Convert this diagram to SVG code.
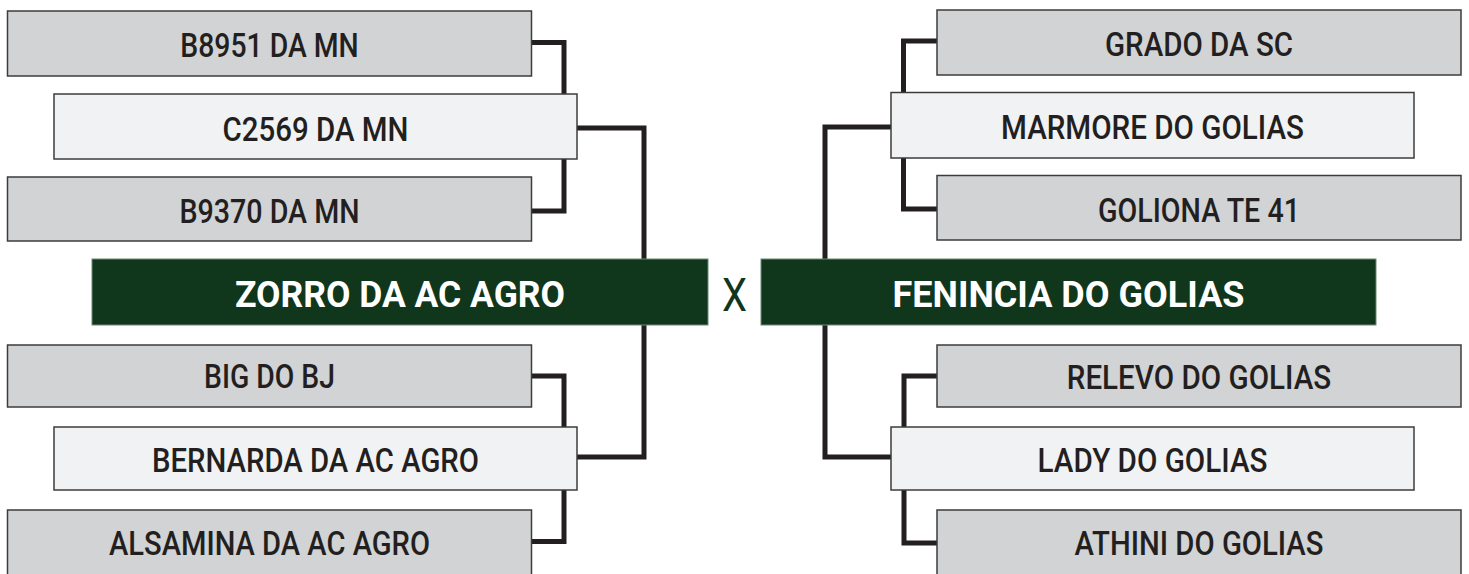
<svg xmlns="http://www.w3.org/2000/svg" width="1469" height="574" viewBox="0 0 1469 574">
<style>
.bg{fill:#ffffff}
.gray{fill:#d1d3d4;stroke:#3c3c3c;stroke-width:1.5}
.light{fill:#f1f2f3;stroke:#3c3c3c;stroke-width:1.5}
.green{fill:#10361c;stroke:#6d8a74;stroke-width:1}
.lbl{font-family:Roboto,"Liberation Sans",sans-serif;font-weight:500;font-size:33px;fill:#231f20;text-anchor:middle}
.big{font-family:Roboto,"Liberation Sans",sans-serif;font-weight:700;font-size:37px;fill:#ffffff;text-anchor:middle}
.x{font-family:Roboto,"Liberation Sans",sans-serif;font-weight:400;font-size:47px;fill:#10361c;text-anchor:middle}
.conn{fill:none;stroke:#231f20;stroke-width:5;stroke-linejoin:miter;stroke-linecap:butt}
</style>
<rect class="bg" x="0" y="0" width="1469" height="574"/>
<g id="connectors">
<path class="conn" d="M531,42.5 H564 V211 H531"/>
<path class="conn" d="M577,128 H644 V457 H577"/>
<path class="conn" d="M531,376 H564 V541.5 H531"/>
<path class="conn" d="M937,41 H903.5 V209 H937"/>
<path class="conn" d="M891,127 H825 V457 H891"/>
<path class="conn" d="M937,376 H904 V543 H937"/>
</g>
<g id="n-b8951"><rect class="gray" x="7.5" y="11" width="524" height="65"/><text class="lbl" x="269.5" y="57" textLength="178.5" lengthAdjust="spacingAndGlyphs">B8951 DA MN</text></g>
<g id="n-c2569"><rect class="light" x="54" y="94" width="523" height="65"/><text class="lbl" x="315.5" y="141" textLength="186" lengthAdjust="spacingAndGlyphs">C2569 DA MN</text></g>
<g id="n-b9370"><rect class="gray" x="7.5" y="177" width="524" height="64"/><text class="lbl" x="269.5" y="223" textLength="180" lengthAdjust="spacingAndGlyphs">B9370 DA MN</text></g>
<g id="n-zorro"><rect class="green" x="92" y="259" width="616" height="66"/><text class="big" x="400" y="306.5" textLength="330" lengthAdjust="spacingAndGlyphs">ZORRO DA AC AGRO</text></g>
<g id="n-big"><rect class="gray" x="7.5" y="345" width="524" height="62"/><text class="lbl" x="269.5" y="388" textLength="131" lengthAdjust="spacingAndGlyphs">BIG DO BJ</text></g>
<g id="n-bernarda"><rect class="light" x="54" y="427" width="523" height="63"/><text class="lbl" x="315.5" y="471.5" textLength="327" lengthAdjust="spacingAndGlyphs">BERNARDA DA AC AGRO</text></g>
<g id="n-alsamina"><rect class="gray" x="7.5" y="510" width="524" height="75"/><text class="lbl" x="269.5" y="555" textLength="321" lengthAdjust="spacingAndGlyphs">ALSAMINA DA AC AGRO</text></g>
<g id="n-x"><text class="x" x="734.5" y="310.5" textLength="25" lengthAdjust="spacingAndGlyphs">X</text></g>
<g id="n-grado"><rect class="gray" x="937" y="10" width="524" height="65"/><text class="lbl" x="1199" y="56" textLength="188" lengthAdjust="spacingAndGlyphs">GRADO DA SC</text></g>
<g id="n-marmore"><rect class="light" x="891" y="92.5" width="523" height="65.5"/><text class="lbl" x="1152.5" y="138.5" textLength="303" lengthAdjust="spacingAndGlyphs">MARMORE DO GOLIAS</text></g>
<g id="n-goliona"><rect class="gray" x="937" y="175.5" width="524" height="64.5"/><text class="lbl" x="1199" y="222" textLength="202" lengthAdjust="spacingAndGlyphs">GOLIONA TE 41</text></g>
<g id="n-fenincia"><rect class="green" x="761" y="259" width="615" height="66"/><text class="big" x="1068.5" y="306.5" textLength="352" lengthAdjust="spacingAndGlyphs">FENINCIA DO GOLIAS</text></g>
<g id="n-relevo"><rect class="gray" x="937" y="345" width="524" height="62"/><text class="lbl" x="1199" y="389" textLength="264.5" lengthAdjust="spacingAndGlyphs">RELEVO DO GOLIAS</text></g>
<g id="n-lady"><rect class="light" x="891" y="427" width="523" height="63"/><text class="lbl" x="1152.5" y="471.5" textLength="230" lengthAdjust="spacingAndGlyphs">LADY DO GOLIAS</text></g>
<g id="n-athini"><rect class="gray" x="937" y="510" width="524" height="75"/><text class="lbl" x="1199" y="555" textLength="249" lengthAdjust="spacingAndGlyphs">ATHINI DO GOLIAS</text></g>
</svg>
